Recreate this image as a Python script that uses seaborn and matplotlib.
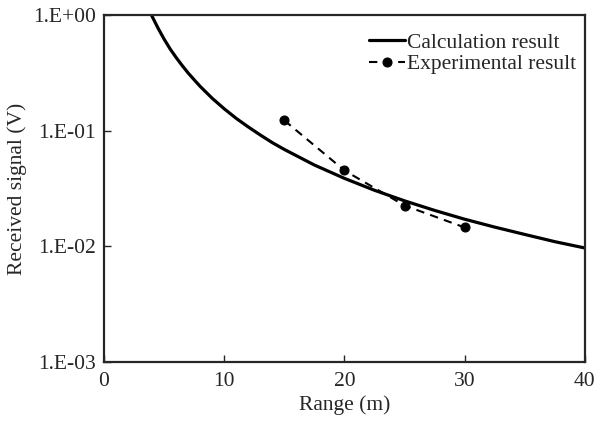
import numpy as np
import pandas as pd
import seaborn as sns
import matplotlib.pyplot as plt

calc_range = [3.95, 4.5, 5, 5.5, 6, 6.5, 7, 7.5, 8, 9, 10, 11, 12, 13, 14, 15,
              17.5, 20, 22.5, 25, 27.5, 30, 32.5, 35, 37.5, 40]
calc_signal = [1.0, 0.77, 0.62, 0.51, 0.43, 0.367, 0.316, 0.276, 0.242, 0.191,
               0.155, 0.128, 0.108, 0.092, 0.079, 0.069, 0.0506, 0.0388, 0.0306,
               0.0248, 0.0205, 0.0172, 0.0147, 0.0127, 0.0110, 0.0097]

exp_range = [15, 20, 25, 30]
exp_signal = [0.123, 0.0454, 0.0226, 0.0146]

y_ticks = [1e-3, 1e-2, 1e-1, 1e0]
y_tick_labels = ['1.E-03', '1.E-02', '1.E-01', '1.E+00']
x_ticks = [0, 10, 20, 30, 40]

sns.set_style("ticks")
plt.rcParams['font.family'] = ['Liberation Serif', 'DejaVu Serif']
plt.rcParams['font.size'] = 15.5
plt.rcParams['axes.linewidth'] = 1.6

calc_df = pd.DataFrame({'Range': calc_range, 'Signal': calc_signal})
exp_df = pd.DataFrame({'Range': exp_range, 'Signal': exp_signal})

fig = plt.figure(figsize=(5.98, 4.22), dpi=100)
ax = fig.add_axes([0.174, 0.142, 0.804, 0.822])

sns.lineplot(data=calc_df, x='Range', y='Signal', ax=ax, color='black',
             linewidth=2.3, label='Calculation result')
sns.lineplot(data=exp_df, x='Range', y='Signal', ax=ax, color='black',
             linewidth=1.5, linestyle=(0, (4, 3)), marker='o', markersize=6.5,
             markeredgecolor='black', label='Experimental result')

ax.set_yscale('log')
ax.set_xlim(0, 40)
ax.set_ylim(1e-3, 1)
ax.set_xticks(x_ticks)
ax.set_yticks(y_ticks)
ax.set_yticklabels(y_tick_labels)
ax.minorticks_off()
ax.tick_params(direction='in', length=5, width=1, labelsize=15.5)
ax.tick_params(axis='y', pad=6)
ax.tick_params(axis='x', pad=7)
ax.set_xlabel('Range (m)', fontsize=15.5, labelpad=3)
ax.set_ylabel('Received signal (V)', fontsize=15.5, labelpad=4)

ax.legend(loc='upper right', bbox_to_anchor=(1.0, 0.974), frameon=False,
          handlelength=1.65, handletextpad=0.12, labelspacing=0.05,
          borderaxespad=0, fontsize=15.5)

fig.savefig('out.png', dpi=100)
